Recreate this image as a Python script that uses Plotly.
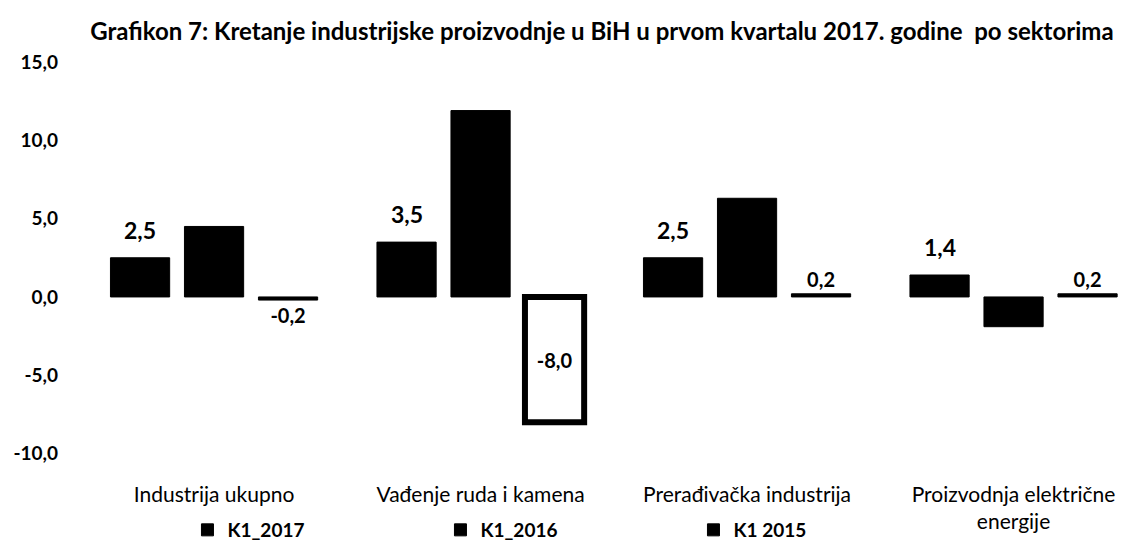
import plotly.graph_objects as go

categories = ["Industrija ukupno", "Vađenje ruda i kamena", "Prerađivačka industrija", "Proizvodnja električne<br>energije"]
k1_2017 = [2.5, 3.5, 2.5, 1.4]
k1_2016 = [4.5, 11.9, 6.3, -1.9]
k1_2015 = [-0.2, -8.0, 0.2, 0.2]
series_names = ["K1_2017", "K1_2016", "K1 2015"]
y_ticks = [-10, -5, 0, 5, 10, 15]
y_tick_labels = ["-10,0", "-5,0", "0,0", "5,0", "10,0", "15,0"]

FONT = "Lato"
W, H = 1127, 552
ML, MR, MT, MB = 80, 0, 54, 3
PLOT_BOTTOM = 452       # pixel row of the y axis minimum
CAT_PX = 266.5          # pixel width of one category
BARGAP, GROUPGAP = 0.167, 0.2
plot_w = W - ML - MR
x0 = -0.473
x1 = x0 + plot_w / CAT_PX
slot_px = CAT_PX * (1 - BARGAP) / 3


def fmt(v):
    return f"{v:.1f}".replace(".", ",")


fig = go.Figure()
fig.add_trace(go.Bar(
    x=categories, y=k1_2017, name=series_names[0],
    marker=dict(color="black", line=dict(color="black", width=1)),
))
fig.add_trace(go.Bar(
    x=categories, y=k1_2016, name=series_names[1],
    marker=dict(color="black", line=dict(color="black", width=1)),
))
fig.add_trace(go.Bar(
    x=categories, y=k1_2015, name=series_names[2],
    marker=dict(color=["black" if v > -5 else "white" for v in k1_2015],
                line=dict(color="black", width=[1 if v > -5 else 6 for v in k1_2015])),
    text=[fmt(v) for v in k1_2015],
    textposition=["outside" if v > -5 else "inside" for v in k1_2015],
    insidetextanchor="middle",
    cliponaxis=False,
    textfont=dict(family=FONT, size=20, color="black", weight="bold"),
))

# value labels of the first series, lifted a little above the bars
for cat, v in zip(categories, k1_2017):
    fig.add_annotation(
        x=cat, y=v, xref="x", yref="y", text=f"<b>{fmt(v)}</b>",
        showarrow=False, xanchor="center", yanchor="bottom",
        xshift=-slot_px, yshift=12,
        font=dict(family=FONT, size=23, color="black"),
    )

fig.update_layout(
    width=W, height=H,
    paper_bgcolor="white", plot_bgcolor="white",
    separators=",.",
    barmode="group", bargap=BARGAP, bargroupgap=GROUPGAP,
    margin=dict(l=ML, r=MR, t=MT, b=MB),
    font=dict(family=FONT, color="black", size=16),
    title=dict(
        text="<b>Grafikon 7: Kretanje industrijske proizvodnje u BiH u prvom kvartalu 2017. godine  po sektorima</b>",
        x=0.527, xanchor="center", y=0.958, yanchor="middle",
        font=dict(family=FONT, size=24, color="black"),
    ),
    xaxis=dict(
        range=[x0, x1],
        showline=False, showgrid=False, ticks="",
        ticklabelstandoff=26,
        tickfont=dict(family=FONT, size=21, color="black"),
    ),
    yaxis=dict(
        domain=[(H - MB - PLOT_BOTTOM) / (H - MT - MB), 1],
        range=[-10, 15], tickvals=y_ticks, ticktext=y_tick_labels,
        showgrid=False, zeroline=False, showline=False,
        ticklabelstandoff=29,
        tickfont=dict(family=FONT, size=19, color="black", weight="bold"),
    ),
    legend=dict(
        orientation="h",
        x=0.095, xanchor="left", y=0.0, yanchor="bottom",
        entrywidth=208, entrywidthmode="pixels",
        font=dict(family=FONT, size=19, color="black", weight="bold"),
        itemwidth=30,
    ),
)

fig.write_html("out.html")
